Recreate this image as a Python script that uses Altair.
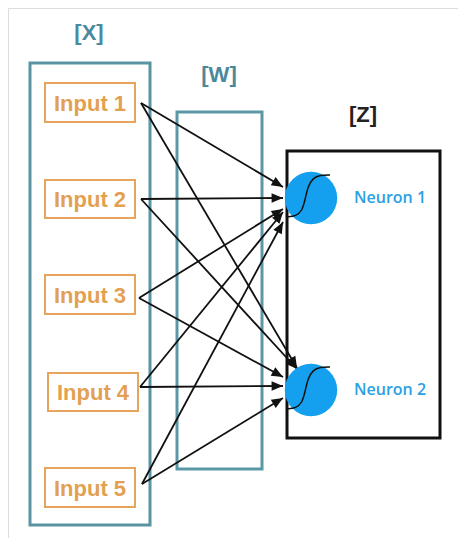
import altair as alt
import pandas as pd
import math

# ---- data (screen-pixel coordinates of the diagram) ----
layer_labels = ["[X]", "[W]", "[Z]"]
layer_label_x = [89, 219, 363]
layer_label_y = [33, 75, 115]
layer_label_color = ["#4a8a9c", "#4a8a9c", "#222222"]

box_names = ["X", "W", "Z"]
box_x1 = [30, 177, 287]
box_x2 = [150, 262, 440]
box_y1 = [63, 112, 151]
box_y2 = [525, 469, 438]
box_color = ["#5a93a3", "#5a97a7", "#111111"]
box_width = [3, 3, 3]

inputs = ["Input 1", "Input 2", "Input 3", "Input 4", "Input 5"]
input_x1 = [45, 45, 45, 48, 45]
input_x2 = [135, 135, 135, 138, 135]
input_y1 = [83, 180, 275, 373, 468]
input_y2 = [122, 218, 314, 411, 507]
arrow_start_x = [141, 141, 139, 140, 142]
arrow_start_y = [103, 199, 298, 387, 484]

neurons = ["Neuron 1", "Neuron 2"]
neuron_x = [311, 311]
neuron_y = [198, 390]
neuron_label_x = [390, 390]
# arrow end points at each neuron, one per input
end_x_n1 = [283, 283, 283, 283, 283]
end_y_n1 = [187, 198, 209, 212, 222]
end_x_n2 = [297, 297, 283, 283, 283]
end_y_n2 = [368, 369, 377, 386, 398]

sig1_x = [287, 296, 302, 305, 308, 313, 320, 330]
sig1_y = [217, 216, 211, 200, 186, 178, 175, 175]
sig2_x = [287, 296, 302, 305, 308, 313, 320, 330]
sig2_y = [409, 408, 403, 392, 378, 370, 367, 367]

# ---- tables ----
arrows = []
for i in range(5):
    for ex, ey in ((end_x_n1[i], end_y_n1[i]), (end_x_n2[i], end_y_n2[i])):
        sx, sy = arrow_start_x[i], arrow_start_y[i]
        ang = math.degrees(math.atan2(ex - sx, -(ey - sy))) % 360
        arrows.append({"x": sx, "y": sy, "x2": ex, "y2": ey, "angle": ang})
arrows = pd.DataFrame(arrows)

boxes = pd.DataFrame({"name": box_names, "x": box_x1, "x2": box_x2,
                      "y": box_y1, "y2": box_y2, "c": box_color})
inp = pd.DataFrame({"label": inputs, "x": input_x1, "x2": input_x2,
                    "y": input_y1, "y2": input_y2,
                    "tx": [(a + b) / 2 for a, b in zip(input_x1, input_x2)],
                    "ty": [(a + b) / 2 + 1 for a, b in zip(input_y1, input_y2)]})
neu = pd.DataFrame({"label": neurons, "x": neuron_x, "y": neuron_y,
                    "lx": neuron_label_x})
sig = pd.DataFrame({"x": sig1_x + sig2_x, "y": sig1_y + sig2_y,
                    "g": ["a"] * len(sig1_x) + ["b"] * len(sig2_x),
                    "o": list(range(len(sig1_x))) + list(range(len(sig2_x)))})
lab = pd.DataFrame({"label": layer_labels, "x": layer_label_x,
                    "y": layer_label_y, "c": layer_label_color})

W, H = 450, 530
xs = alt.Scale(domain=[8, 8 + W], nice=False, zero=False)
ys = alt.Scale(domain=[8, 8 + H], nice=False, zero=False, reverse=True)
X = lambda f="x": alt.X(f"{f}:Q", scale=xs, axis=None)
Y = lambda f="y": alt.Y(f"{f}:Q", scale=ys, axis=None)

box_layers = []
for i in range(3):
    box_layers.append(
        alt.Chart(boxes.iloc[[i]]).mark_rect(fill="white", fillOpacity=0,
                                             stroke=box_color[i], strokeWidth=box_width[i])
        .encode(x=X(), x2="x2:Q", y=Y(), y2="y2:Q"))

lines = alt.Chart(arrows).mark_rule(color="#111111", strokeWidth=1.8).encode(
    x=X(), y=Y(), x2="x2:Q", y2="y2:Q")
heads = alt.Chart(arrows).mark_point(
    shape="M0,0L-0.42,1L0.42,1Z", filled=True, color="#111111", opacity=1, size=520
).encode(x=X("x2"), y=Y("y2"), angle=alt.Angle("angle:Q", scale=None))

inboxes = alt.Chart(inp).mark_rect(fill="white", stroke="#e6a55a", strokeWidth=2).encode(
    x=X(), x2="x2:Q", y=Y(), y2="y2:Q")
intext = alt.Chart(inp).mark_text(font="Liberation Sans", fontSize=22, fontWeight="bold",
                                  color="#e3a053", baseline="middle", align="center").encode(
    x=X("tx"), y=Y("ty"), text="label:N")

circles = alt.Chart(neu).mark_circle(color="#14a0ee", opacity=1, size=2750).encode(
    x=X(), y=Y())
sigm = alt.Chart(sig).mark_line(color="#111111", strokeWidth=1.5, interpolate="basis").encode(
    x=X(), y=Y(), detail="g:N", order="o:Q")
ntext = alt.Chart(neu).mark_text(font="Open Sans", fontSize=16, fontWeight=600, color="#2b9fe3",
                                 baseline="middle", align="center").encode(
    x=X("lx"), y=Y(), text="label:N")
ltext = alt.Chart(lab).mark_text(font="Liberation Sans", fontSize=22, fontWeight="bold",
                                 baseline="middle", align="center").encode(
    x=X(), y=Y(), text="label:N", color=alt.Color("c:N", scale=None))

chart = alt.layer(*box_layers, lines, heads, inboxes, intext, circles, sigm, ntext, ltext).properties(
    width=W, height=H, padding=0, autosize=alt.AutoSizeParams(type="none")
).configure_view(strokeWidth=0, stroke="transparent").configure_axis(
    domain=False, grid=False, ticks=False, labels=False
).configure(background="white")

chart.save("out.html", embed_options={"renderer": "svg", "actions": False})
